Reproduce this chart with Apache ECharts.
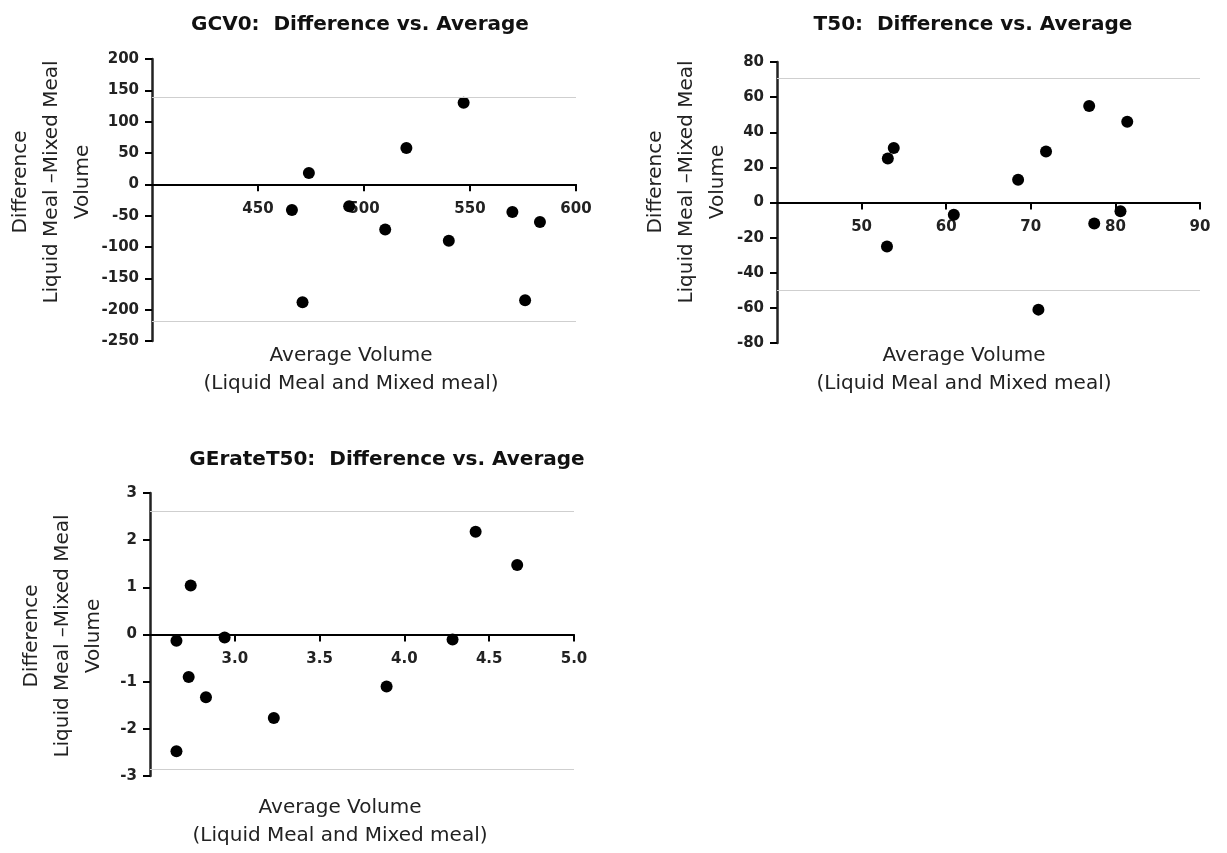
<!DOCTYPE html>
<html>
<head>
<meta charset="utf-8">
<script src="https://cdn.jsdelivr.net/npm/echarts@6/dist/echarts.min.js"></script>
<style>html,body{margin:0;padding:0;background:#fff}#c{width:1227px;height:853px}</style>
</head>
<body>
<div id="c"></div>
<script>
// ---- data ----
const titles = ['GCV0:  Difference vs. Average', 'T50:  Difference vs. Average', 'GErateT50:  Difference vs. Average'];
const gcv0X = [466, 474, 471, 493, 510, 520, 547, 540, 570, 576, 583];
const gcv0Y = [-41, 18, -188, -35, -72, 58, 130, -90, -44, -185, -60];
const gcv0Limits = [139, -219];
const t50X = [53.1, 53.8, 53.0, 60.9, 68.5, 71.8, 70.9, 76.9, 77.5, 80.6, 81.4];
const t50Y = [25, 31, -25, -7, 13, 29, -61, 55, -12, -5, 46];
const t50Limits = [71, -50];
const geX = [2.656, 2.656, 2.74, 2.728, 2.83, 2.94, 3.23, 3.895, 4.284, 4.42, 4.665];
const geY = [-0.135, -2.475, 1.04, -0.90, -1.33, -0.064, -1.77, -1.10, -0.106, 2.18, 1.475];
const geLimits = [2.62, -2.85];
const xRanges = [[400, 600, 50], [40, 90, 10], [2.5, 5.0, 0.5]];
const yRanges = [[-250, 200, 50], [-80, 80, 20], [-3, 3, 1]];
const yName = 'Difference\nLiquid Meal \u2013Mixed Meal\nVolume';
const xName = 'Average Volume\n(Liquid Meal and Mixed meal)';

const panels = [
  {x: gcv0X, y: gcv0Y, lim: gcv0Limits, fmt: v => String(v)},
  {x: t50X, y: t50Y, lim: t50Limits, fmt: v => String(v)},
  {x: geX, y: geY, lim: geLimits, fmt: v => v.toFixed(1)}
];

// ---- layout ----
const grids = [
  {left: 152, top: 59, width: 424, height: 282},
  {left: 777, top: 62, width: 423, height: 281},
  {left: 150, top: 493, width: 424, height: 283}
];
const titlePos = [[355, 22], [968, 22], [382, 457]];
const yNamePos = [[52, 182], [687, 182], [63, 636]];
const xNamePos = [[351, 370], [964, 370], [340, 822]];

const FONT = 'DejaVu Sans';

// x axis drawn through y = 0 (moved up from the grid bottom)
function zeroOffset(i) {
  const r = yRanges[i];
  return -grids[i].height * (0 - r[0]) / (r[1] - r[0]);
}

const option = {
  backgroundColor: '#fff',
  animation: false,
  title: titles.map((t, i) => ({
    text: t, left: titlePos[i][0], top: titlePos[i][1] - 12,
    textAlign: 'center',
    textStyle: {fontFamily: FONT, fontWeight: 'bold', fontSize: 20, color: '#111'}
  })),
  grid: grids,
  xAxis: panels.map((p, i) => ({
    type: 'value', gridIndex: i, position: 'bottom', offset: zeroOffset(i),
    min: xRanges[i][0], max: xRanges[i][1], interval: xRanges[i][2],
    axisLine: {show: true, onZero: false, lineStyle: {color: '#000', width: 2}},
    axisTick: {show: true, length: 7, lineStyle: {color: '#000', width: 2}},
    axisLabel: {showMinLabel: false, margin: 17, formatter: p.fmt,
      fontFamily: FONT, fontWeight: 'bold', fontSize: 15, color: '#222'},
    splitLine: {show: false}
  })),
  yAxis: panels.map((p, i) => ({
    type: 'value', gridIndex: i,
    min: yRanges[i][0], max: yRanges[i][1], interval: yRanges[i][2],
    axisLine: {show: true, onZero: false, lineStyle: {color: '#222', width: 2.5}},
    axisTick: {show: true, length: 7, lineStyle: {color: '#000', width: 2}},
    axisLabel: {margin: 13, fontFamily: FONT, fontWeight: 'bold', fontSize: 15, color: '#222'},
    splitLine: {show: false}
  })),
  series: panels.map((p, i) => ({
    type: 'scatter', xAxisIndex: i, yAxisIndex: i,
    symbol: 'circle', symbolSize: 12,
    itemStyle: {color: '#000', opacity: 1},
    data: p.x.map((v, k) => [v, p.y[k]]),
    markLine: {
      silent: true, symbol: 'none', label: {show: false},
      lineStyle: {color: '#cfcfcf', width: 1, type: 'solid'},
      data: p.lim.map(v => ({yAxis: v}))
    }
  })),
  graphic: [].concat(
    yNamePos.map(pos => ({
      type: 'text', x: pos[0], y: pos[1], rotation: Math.PI / 2,
      style: {text: yName, fontFamily: FONT, fontSize: 20, fill: '#222',
        align: 'center', verticalAlign: 'middle', lineHeight: 31}
    })),
    xNamePos.map(pos => ({
      type: 'text', x: pos[0], y: pos[1],
      style: {text: xName, fontFamily: FONT, fontSize: 20, fill: '#222',
        align: 'center', verticalAlign: 'middle', lineHeight: 28}
    }))
  )
};

const chart = echarts.init(document.getElementById('c'), null, {renderer: 'canvas'});
chart.setOption(option);
</script>
</body>
</html>
